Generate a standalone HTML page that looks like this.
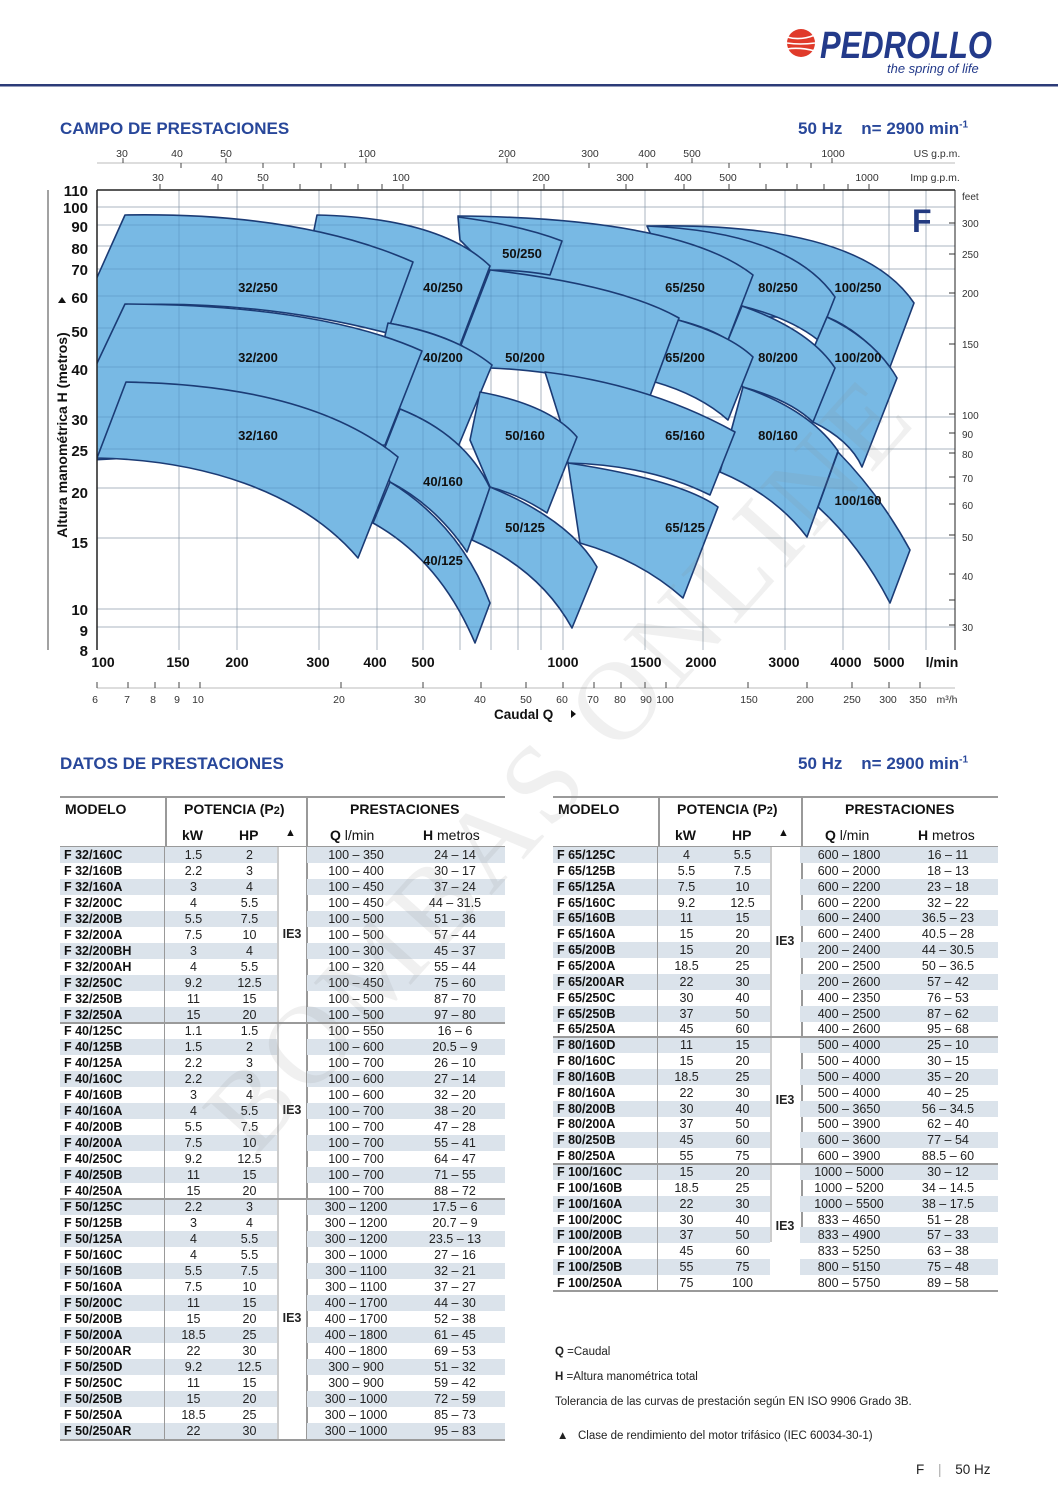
<!DOCTYPE html>
<html><head><meta charset="utf-8"><style>
body{margin:0;background:#fff;}
#pg{position:relative;width:1058px;height:1497px;overflow:hidden;font-family:"Liberation Sans",sans-serif;color:#222;}
.ttl{position:absolute;font-weight:bold;font-size:17px;color:#28479a;}
.tb{position:absolute;width:447px;}
.row{position:absolute;left:0;width:447px;height:16px;font-size:12.5px;line-height:16px;}
.row span{position:absolute;top:0;height:100%;text-align:center;}
.row .a{left:0;width:105px;text-align:left;padding-left:4px;box-sizing:border-box;font-weight:bold;color:#111;border-right:1.5px solid #999;}
.row .k{left:105px;width:57px;}
.row .h{left:162px;width:55px;}
.row .q{left:247px;width:98px;}
.row .m{left:345px;width:100px;}
.s .a,.s .k,.s .h,.s .q,.s .m{background:#dbe3eb;}
.hd{position:absolute;font-weight:bold;font-size:14px;color:#111;}
.ie{position:absolute;font-weight:bold;font-size:12.5px;width:30px;text-align:center;}
.vl{position:absolute;width:1.5px;background:#999;}
.hl{position:absolute;height:2px;background:#9a9a9a;}
.nt{position:absolute;font-size:11.5px;color:#222;}
</style></head><body><div id="pg">

<!-- header logo -->
<svg style="position:absolute;left:0;top:0" width="1058" height="100">
<circle cx="801" cy="43" r="14" fill="#e03a2a"/>
<g stroke="#fff" stroke-width="1.6" fill="none">
<path d="M787,37 Q800,41 815,35"/><path d="M787,43 Q800,45 815,43"/><path d="M787,49 Q800,47 815,51"/></g>
<text x="820" y="58" font-family="Liberation Sans" font-weight="bold" font-style="italic" font-size="38" fill="#233a8a" textLength="172" lengthAdjust="spacingAndGlyphs">PEDROLLO</text>
<text x="887" y="73" font-family="Liberation Sans" font-style="italic" font-size="13" fill="#233a8a">the spring of life</text>
<rect x="0" y="84" width="1058" height="2.5" fill="#2c3b78"/>
</svg>

<div class="ttl" style="left:60px;top:119px">CAMPO DE PRESTACIONES</div>
<div class="ttl" style="left:798px;top:119px">50 Hz &nbsp;&nbsp;&nbsp;n= 2900 min<sup style="font-size:10px">-1</sup></div>

<svg style="position:absolute;left:0;top:0" width="1058" height="740" font-family="Liberation Sans">
<defs><clipPath id="cp"><rect x="97" y="190" width="858" height="460"/></clipPath></defs>
<!-- light grid under -->
<g stroke="#d0d0d0" stroke-width="1">
<path d="M179,190V650M237,190V650M319,190V650M377,190V650M423,190V650M460,190V650M491,190V650M518,190V650M541,190V650M563,190V650M645,190V650M703,190V650M785,190V650M843,190V650M889,190V650M926,190V650"/>
<path d="M97,207H955M97,225H955M97,246H955M97,269H955M97,296H955M97,328H955M97,367H955M97,417H955M97,449H955M97,488H955M97,538H955M97,609H955M97,627H955"/>
</g>
<g clip-path="url(#cp)" fill="#78b9e4" stroke="#1b3b75" stroke-width="1.6" stroke-linejoin="round">
<path d="M648,226 Q860,222 914,303 L890,367 Q860,330 827,317 L700,317 Z"/>
<path d="M647,226 Q790,232 835,297 L818,340 Q790,318 742,306 L680,300 Z"/>
<path d="M458,216 Q680,218 753,275 L728,340 Q710,328 678,320 L500,300 Z"/>
<path d="M458,217 Q520,225 562,241 L550,275 Q520,270 490,270 L460,240 Z"/>
<path d="M317,215 Q440,218 490,266 L460,345 Q430,330 388,323 L300,300 Z"/>
<path d="M125,215 Q300,212 413,262 L387,333 Q260,300 125,305 L90,380 L90,293 Z"/>
<path d="M827,317 Q875,340 897,378 L862,467 Q850,440 813,422 L800,380 Z"/>
<path d="M742,306 Q810,330 835,368 L813,422 Q790,400 743,387 L720,360 Z"/>
<path d="M678,320 Q730,335 753,357 L728,420 Q700,395 655,382 L640,370 Z"/>
<path d="M490,270 Q620,285 679,318 L647,404 Q590,372 490,368 L461,345 Z"/>
<path d="M388,323 Q455,335 492,365 L458,447 Q440,425 400,409 L370,400 Z"/>
<path d="M125,304 Q320,305 422,351 L385,445 L90,460 L90,378 Z"/>
<path d="M838,452 Q880,495 910,550 L890,603 Q860,545 818,507 Z"/>
<path d="M743,387 Q810,410 838,451 L807,537 Q775,495 720,472 Z"/>
<path d="M545,372 Q650,385 735,432 L710,495 Q650,465 568,463 L560,420 Z"/>
<path d="M480,392 Q550,405 577,437 L547,513 Q520,495 490,487 L470,440 Z"/>
<path d="M400,409 Q465,435 490,488 L467,552 Q435,505 390,482 L380,460 Z"/>
<path d="M126,382 Q310,385 398,457 L358,558 C300,490 200,460 97,458 Z"/>
<path d="M568,463 Q680,480 718,507 L683,598 Q640,560 580,543 Z"/>
<path d="M490,487 Q570,520 597,567 L572,628 Q540,570 472,540 Z"/>
<path d="M390,482 Q460,525 490,603 L475,643 Q440,560 373,523 Z"/>
</g>
<!-- grid over fill -->
<g stroke="#2a5a8a" stroke-opacity="0.22" stroke-width="1">
<path d="M179,190V650M237,190V650M319,190V650M377,190V650M423,190V650M460,190V650M491,190V650M518,190V650M541,190V650M563,190V650M645,190V650M703,190V650M785,190V650M843,190V650M889,190V650M926,190V650"/>
<path d="M97,207H955M97,225H955M97,246H955M97,269H955M97,296H955M97,328H955M97,367H955M97,417H955M97,449H955M97,488H955M97,538H955M97,609H955M97,627H955"/>
</g>
<!-- frame -->
<g stroke="#222" fill="none">
<path d="M97,190H955" stroke-width="1.5"/>
<path d="M97,190V650" stroke-width="1.5"/>
<path d="M955,190V650" stroke-width="1"/>
<path d="M48,190V650" stroke-width="1" stroke="#444"/>
<path d="M97,163H955" stroke="#bbb"/>
<path d="M97,688H955" stroke="#bbb"/>
</g>
<!-- labels -->
<g font-size="13" font-weight="bold" fill="#111" text-anchor="middle">
<text x="258" y="292">32/250</text><text x="443" y="292">40/250</text><text x="522" y="258">50/250</text><text x="685" y="292">65/250</text><text x="778" y="292">80/250</text><text x="858" y="292">100/250</text>
<text x="258" y="362">32/200</text><text x="443" y="362">40/200</text><text x="525" y="362">50/200</text><text x="685" y="362">65/200</text><text x="778" y="362">80/200</text><text x="858" y="362">100/200</text>
<text x="258" y="440">32/160</text><text x="443" y="486">40/160</text><text x="525" y="440">50/160</text><text x="685" y="440">65/160</text><text x="778" y="440">80/160</text><text x="858" y="505">100/160</text>
<text x="443" y="565">40/125</text><text x="525" y="532">50/125</text><text x="685" y="532">65/125</text>
</g>
<text x="912" y="232" font-size="32" font-weight="bold" fill="#223a80">F</text>
<!-- y labels -->
<g font-size="15" font-weight="bold" fill="#111" text-anchor="end">
<text x="88" y="196">110</text><text x="88" y="213">100</text><text x="88" y="232">90</text><text x="88" y="254">80</text><text x="88" y="275">70</text><text x="88" y="303">60</text><text x="88" y="337">50</text><text x="88" y="375">40</text><text x="88" y="425">30</text><text x="88" y="456">25</text><text x="88" y="498">20</text><text x="88" y="548">15</text><text x="88" y="615">10</text><text x="88" y="636">9</text><text x="88" y="656">8</text>
</g>
<text transform="translate(67,435) rotate(-90)" font-size="14" font-weight="bold" text-anchor="middle" fill="#111">Altura manométrica H (metros)</text>
<path d="M58,303 l4,-6 l4,6z" fill="#111"/>
<!-- right feet -->
<g font-size="10" fill="#333">
<text x="962" y="200">feet</text><text x="962" y="227">300</text><text x="962" y="258">250</text><text x="962" y="297">200</text><text x="962" y="348">150</text><text x="962" y="419">100</text><text x="962" y="438">90</text><text x="962" y="458">80</text><text x="962" y="482">70</text><text x="962" y="509">60</text><text x="962" y="541">50</text><text x="962" y="580">40</text><text x="962" y="631">30</text>
</g>
<g stroke="#333"><path d="M955,223h-6M955,254h-6M955,293h-6M955,344h-6M955,414h-6M955,433h-6M955,453h-6M955,477h-6M955,504h-6M955,535h-6M955,574h-6M955,600h-6M955,625h-6"/></g>
<!-- top axes -->
<g font-size="10.5" fill="#333" text-anchor="middle">
<text x="122" y="157">30</text><text x="177" y="157">40</text><text x="226" y="157">50</text><text x="367" y="157">100</text><text x="507" y="157">200</text><text x="590" y="157">300</text><text x="647" y="157">400</text><text x="692" y="157">500</text><text x="833" y="157">1000</text><text x="937" y="157">US g.p.m.</text>
<text x="158" y="181">30</text><text x="217" y="181">40</text><text x="263" y="181">50</text><text x="401" y="181">100</text><text x="541" y="181">200</text><text x="625" y="181">300</text><text x="683" y="181">400</text><text x="728" y="181">500</text><text x="867" y="181">1000</text><text x="935" y="181">Imp g.p.m.</text>
</g>
<g stroke="#444"><path d="M123,163v-5M181,163v5M226,163v-5M263,163v5M294,163v5M321,163v5M345,163v5M366,163v-5M507,163v-5M589,163v5M647,163v5M692,163v-5M729,163v5M760,163v5M787,163v5M811,163v5M832,163v-5"/>
<path d="M160,190v-6M218,190v-6M263,190v-6M300,190v-6M331,190v-6M358,190v-6M382,190v-6M403,190v-6M544,190v-6M626,190v-6M684,190v-6M729,190v-6M766,190v-6M797,190v-6M824,190v-6M848,190v-6M869,190v-6"/></g>
<!-- bottom axes -->
<g font-size="14" font-weight="bold" fill="#111" text-anchor="middle">
<text x="103" y="667">100</text><text x="178" y="667">150</text><text x="237" y="667">200</text><text x="318" y="667">300</text><text x="375" y="667">400</text><text x="423" y="667">500</text><text x="563" y="667">1000</text><text x="646" y="667">1500</text><text x="701" y="667">2000</text><text x="784" y="667">3000</text><text x="846" y="667">4000</text><text x="889" y="667">5000</text><text x="942" y="667">l/min</text>
</g>
<g font-size="10.5" fill="#333" text-anchor="middle">
<text x="95" y="703">6</text><text x="127" y="703">7</text><text x="153" y="703">8</text><text x="177" y="703">9</text><text x="198" y="703">10</text><text x="339" y="703">20</text><text x="420" y="703">30</text><text x="480" y="703">40</text><text x="526" y="703">50</text><text x="562" y="703">60</text><text x="593" y="703">70</text><text x="620" y="703">80</text><text x="646" y="703">90</text><text x="665" y="703">100</text><text x="749" y="703">150</text><text x="805" y="703">200</text><text x="852" y="703">250</text><text x="888" y="703">300</text><text x="918" y="703">350</text><text x="947" y="703">m³/h</text>
</g>
<g stroke="#444"><path d="M97,688v-6M128,688v-6M155,688v-6M179,688v-6M200,688v-6M341,688v-6M423,688v-6M481,688v-6M526,688v-6M563,688v-6M594,688v-6M621,688v-6M645,688v-6M666,688v-6M748,688v-6M807,688v-6M852,688v-6M889,688v-6M920,688v-6"/></g>
<text x="494" y="719" font-size="13.5" font-weight="bold" fill="#111">Caudal Q</text>
<path d="M571,710 l5,4 l-5,4z" fill="#111"/>
</svg>

<div class="ttl" style="left:60px;top:754px">DATOS DE PRESTACIONES</div>
<div class="ttl" style="left:798px;top:754px">50 Hz &nbsp;&nbsp;&nbsp;n= 2900 min<sup style="font-size:10px">-1</sup></div>

<!-- LEFT TABLE -->
<div class="tb" style="left:60px;top:796px;height:650px">
<div class="hl" style="left:0;top:0;width:445px"></div>
<div class="hd" style="left:5px;top:5px">MODELO</div>
<div class="hd" style="left:124px;top:5px">POTENCIA (P<span style="font-size:11px">2</span>)</div>
<div class="hd" style="left:290px;top:5px">PRESTACIONES</div>
<div class="hd" style="left:122px;top:31px">kW</div>
<div class="hd" style="left:179px;top:31px">HP</div>
<div class="hd" style="left:225px;top:31px;font-size:11px">▲</div>
<div class="hd" style="left:270px;top:31px">Q <span style="font-weight:normal">l/min</span></div>
<div class="hd" style="left:363px;top:31px">H <span style="font-weight:normal">metros</span></div>
<div class="vl" style="left:105px;top:0;height:51px"></div>
<div class="vl" style="left:246px;top:0;height:645px"></div>
<div class="vl" style="left:217px;top:51px;height:594px;background:#ccc"></div>
<div class="hl" style="left:0;top:50px;width:445px;height:1px"></div>
<div style="position:absolute;top:51px;left:0">
<div class="row s" style="top:0px"><span class="a">F 32/160C</span><span class="k">1.5</span><span class="h">2</span><span class="q">100 – 350</span><span class="m">24 – 14</span></div>
<div class="row" style="top:16px"><span class="a">F 32/160B</span><span class="k">2.2</span><span class="h">3</span><span class="q">100 – 400</span><span class="m">30 – 17</span></div>
<div class="row s" style="top:32px"><span class="a">F 32/160A</span><span class="k">3</span><span class="h">4</span><span class="q">100 – 450</span><span class="m">37 – 24</span></div>
<div class="row" style="top:48px"><span class="a">F 32/200C</span><span class="k">4</span><span class="h">5.5</span><span class="q">100 – 450</span><span class="m">44 – 31.5</span></div>
<div class="row s" style="top:64px"><span class="a">F 32/200B</span><span class="k">5.5</span><span class="h">7.5</span><span class="q">100 – 500</span><span class="m">51 – 36</span></div>
<div class="row" style="top:80px"><span class="a">F 32/200A</span><span class="k">7.5</span><span class="h">10</span><span class="q">100 – 500</span><span class="m">57 – 44</span></div>
<div class="row s" style="top:96px"><span class="a">F 32/200BH</span><span class="k">3</span><span class="h">4</span><span class="q">100 – 300</span><span class="m">45 – 37</span></div>
<div class="row" style="top:112px"><span class="a">F 32/200AH</span><span class="k">4</span><span class="h">5.5</span><span class="q">100 – 320</span><span class="m">55 – 44</span></div>
<div class="row s" style="top:128px"><span class="a">F 32/250C</span><span class="k">9.2</span><span class="h">12.5</span><span class="q">100 – 450</span><span class="m">75 – 60</span></div>
<div class="row" style="top:144px"><span class="a">F 32/250B</span><span class="k">11</span><span class="h">15</span><span class="q">100 – 500</span><span class="m">87 – 70</span></div>
<div class="row s" style="top:160px"><span class="a">F 32/250A</span><span class="k">15</span><span class="h">20</span><span class="q">100 – 500</span><span class="m">97 – 80</span></div>
<div class="row" style="top:176px"><span class="a">F 40/125C</span><span class="k">1.1</span><span class="h">1.5</span><span class="q">100 – 550</span><span class="m">16 – 6</span></div>
<div class="row s" style="top:192px"><span class="a">F 40/125B</span><span class="k">1.5</span><span class="h">2</span><span class="q">100 – 600</span><span class="m">20.5 – 9</span></div>
<div class="row" style="top:208px"><span class="a">F 40/125A</span><span class="k">2.2</span><span class="h">3</span><span class="q">100 – 700</span><span class="m">26 – 10</span></div>
<div class="row s" style="top:224px"><span class="a">F 40/160C</span><span class="k">2.2</span><span class="h">3</span><span class="q">100 – 600</span><span class="m">27 – 14</span></div>
<div class="row" style="top:240px"><span class="a">F 40/160B</span><span class="k">3</span><span class="h">4</span><span class="q">100 – 600</span><span class="m">32 – 20</span></div>
<div class="row s" style="top:256px"><span class="a">F 40/160A</span><span class="k">4</span><span class="h">5.5</span><span class="q">100 – 700</span><span class="m">38 – 20</span></div>
<div class="row" style="top:272px"><span class="a">F 40/200B</span><span class="k">5.5</span><span class="h">7.5</span><span class="q">100 – 700</span><span class="m">47 – 28</span></div>
<div class="row s" style="top:288px"><span class="a">F 40/200A</span><span class="k">7.5</span><span class="h">10</span><span class="q">100 – 700</span><span class="m">55 – 41</span></div>
<div class="row" style="top:304px"><span class="a">F 40/250C</span><span class="k">9.2</span><span class="h">12.5</span><span class="q">100 – 700</span><span class="m">64 – 47</span></div>
<div class="row s" style="top:320px"><span class="a">F 40/250B</span><span class="k">11</span><span class="h">15</span><span class="q">100 – 700</span><span class="m">71 – 55</span></div>
<div class="row" style="top:336px"><span class="a">F 40/250A</span><span class="k">15</span><span class="h">20</span><span class="q">100 – 700</span><span class="m">88 – 72</span></div>
<div class="row s" style="top:352px"><span class="a">F 50/125C</span><span class="k">2.2</span><span class="h">3</span><span class="q">300 – 1200</span><span class="m">17.5 – 6</span></div>
<div class="row" style="top:368px"><span class="a">F 50/125B</span><span class="k">3</span><span class="h">4</span><span class="q">300 – 1200</span><span class="m">20.7 – 9</span></div>
<div class="row s" style="top:384px"><span class="a">F 50/125A</span><span class="k">4</span><span class="h">5.5</span><span class="q">300 – 1200</span><span class="m">23.5 – 13</span></div>
<div class="row" style="top:400px"><span class="a">F 50/160C</span><span class="k">4</span><span class="h">5.5</span><span class="q">300 – 1000</span><span class="m">27 – 16</span></div>
<div class="row s" style="top:416px"><span class="a">F 50/160B</span><span class="k">5.5</span><span class="h">7.5</span><span class="q">300 – 1100</span><span class="m">32 – 21</span></div>
<div class="row" style="top:432px"><span class="a">F 50/160A</span><span class="k">7.5</span><span class="h">10</span><span class="q">300 – 1100</span><span class="m">37 – 27</span></div>
<div class="row s" style="top:448px"><span class="a">F 50/200C</span><span class="k">11</span><span class="h">15</span><span class="q">400 – 1700</span><span class="m">44 – 30</span></div>
<div class="row" style="top:464px"><span class="a">F 50/200B</span><span class="k">15</span><span class="h">20</span><span class="q">400 – 1700</span><span class="m">52 – 38</span></div>
<div class="row s" style="top:480px"><span class="a">F 50/200A</span><span class="k">18.5</span><span class="h">25</span><span class="q">400 – 1800</span><span class="m">61 – 45</span></div>
<div class="row" style="top:496px"><span class="a">F 50/200AR</span><span class="k">22</span><span class="h">30</span><span class="q">400 – 1800</span><span class="m">69 – 53</span></div>
<div class="row s" style="top:512px"><span class="a">F 50/250D</span><span class="k">9.2</span><span class="h">12.5</span><span class="q">300 – 900</span><span class="m">51 – 32</span></div>
<div class="row" style="top:528px"><span class="a">F 50/250C</span><span class="k">11</span><span class="h">15</span><span class="q">300 – 900</span><span class="m">59 – 42</span></div>
<div class="row s" style="top:544px"><span class="a">F 50/250B</span><span class="k">15</span><span class="h">20</span><span class="q">300 – 1000</span><span class="m">72 – 59</span></div>
<div class="row" style="top:560px"><span class="a">F 50/250A</span><span class="k">18.5</span><span class="h">25</span><span class="q">300 – 1000</span><span class="m">85 – 73</span></div>
<div class="row s" style="top:576px"><span class="a">F 50/250AR</span><span class="k">22</span><span class="h">30</span><span class="q">300 – 1000</span><span class="m">95 – 83</span></div>
<div class="hl" style="left:0;top:175px;width:445px"></div>
<div class="hl" style="left:0;top:351px;width:445px"></div>
<div class="hl" style="left:0;top:592px;width:445px"></div>
<div class="ie" style="left:217px;top:80px">IE3</div>
<div class="ie" style="left:217px;top:256px">IE3</div>
<div class="ie" style="left:217px;top:464px">IE3</div>
</div>
</div>

<!-- RIGHT TABLE -->
<div class="tb" style="left:553px;top:796px;height:500px">
<div class="hl" style="left:0;top:0;width:445px"></div>
<div class="hd" style="left:5px;top:5px">MODELO</div>
<div class="hd" style="left:124px;top:5px">POTENCIA (P<span style="font-size:11px">2</span>)</div>
<div class="hd" style="left:292px;top:5px">PRESTACIONES</div>
<div class="hd" style="left:122px;top:31px">kW</div>
<div class="hd" style="left:179px;top:31px">HP</div>
<div class="hd" style="left:225px;top:31px;font-size:11px">▲</div>
<div class="hd" style="left:272px;top:31px">Q <span style="font-weight:normal">l/min</span></div>
<div class="hd" style="left:365px;top:31px">H <span style="font-weight:normal">metros</span></div>
<div class="vl" style="left:105px;top:0;height:51px"></div>
<div class="vl" style="left:248px;top:0;height:446px"></div>
<div class="vl" style="left:217px;top:51px;height:395px;background:#ccc"></div>
<div class="hl" style="left:0;top:50px;width:445px;height:1px"></div>
<div style="position:absolute;top:51px;left:0">
<div class="row s" style="top:0px"><span class="a">F 65/125C</span><span class="k">4</span><span class="h">5.5</span><span class="q">600 – 1800</span><span class="m">16 – 11</span></div>
<div class="row" style="top:15.85px"><span class="a">F 65/125B</span><span class="k">5.5</span><span class="h">7.5</span><span class="q">600 – 2000</span><span class="m">18 – 13</span></div>
<div class="row s" style="top:31.7px"><span class="a">F 65/125A</span><span class="k">7.5</span><span class="h">10</span><span class="q">600 – 2200</span><span class="m">23 – 18</span></div>
<div class="row" style="top:47.55px"><span class="a">F 65/160C</span><span class="k">9.2</span><span class="h">12.5</span><span class="q">600 – 2200</span><span class="m">32 – 22</span></div>
<div class="row s" style="top:63.4px"><span class="a">F 65/160B</span><span class="k">11</span><span class="h">15</span><span class="q">600 – 2400</span><span class="m">36.5 – 23</span></div>
<div class="row" style="top:79.25px"><span class="a">F 65/160A</span><span class="k">15</span><span class="h">20</span><span class="q">600 – 2400</span><span class="m">40.5 – 28</span></div>
<div class="row s" style="top:95.1px"><span class="a">F 65/200B</span><span class="k">15</span><span class="h">20</span><span class="q">200 – 2400</span><span class="m">44 – 30.5</span></div>
<div class="row" style="top:110.95px"><span class="a">F 65/200A</span><span class="k">18.5</span><span class="h">25</span><span class="q">200 – 2500</span><span class="m">50 – 36.5</span></div>
<div class="row s" style="top:126.8px"><span class="a">F 65/200AR</span><span class="k">22</span><span class="h">30</span><span class="q">200 – 2600</span><span class="m">57 – 42</span></div>
<div class="row" style="top:142.65px"><span class="a">F 65/250C</span><span class="k">30</span><span class="h">40</span><span class="q">400 – 2350</span><span class="m">76 – 53</span></div>
<div class="row s" style="top:158.5px"><span class="a">F 65/250B</span><span class="k">37</span><span class="h">50</span><span class="q">400 – 2500</span><span class="m">87 – 62</span></div>
<div class="row" style="top:174.35px"><span class="a">F 65/250A</span><span class="k">45</span><span class="h">60</span><span class="q">400 – 2600</span><span class="m">95 – 68</span></div>
<div class="row s" style="top:190.2px"><span class="a">F 80/160D</span><span class="k">11</span><span class="h">15</span><span class="q">500 – 4000</span><span class="m">25 – 10</span></div>
<div class="row" style="top:206.05px"><span class="a">F 80/160C</span><span class="k">15</span><span class="h">20</span><span class="q">500 – 4000</span><span class="m">30 – 15</span></div>
<div class="row s" style="top:221.9px"><span class="a">F 80/160B</span><span class="k">18.5</span><span class="h">25</span><span class="q">500 – 4000</span><span class="m">35 – 20</span></div>
<div class="row" style="top:237.75px"><span class="a">F 80/160A</span><span class="k">22</span><span class="h">30</span><span class="q">500 – 4000</span><span class="m">40 – 25</span></div>
<div class="row s" style="top:253.6px"><span class="a">F 80/200B</span><span class="k">30</span><span class="h">40</span><span class="q">500 – 3650</span><span class="m">56 – 34.5</span></div>
<div class="row" style="top:269.45px"><span class="a">F 80/200A</span><span class="k">37</span><span class="h">50</span><span class="q">500 – 3900</span><span class="m">62 – 40</span></div>
<div class="row s" style="top:285.3px"><span class="a">F 80/250B</span><span class="k">45</span><span class="h">60</span><span class="q">600 – 3600</span><span class="m">77 – 54</span></div>
<div class="row" style="top:301.15px"><span class="a">F 80/250A</span><span class="k">55</span><span class="h">75</span><span class="q">600 – 3900</span><span class="m">88.5 – 60</span></div>
<div class="row s" style="top:317px"><span class="a">F 100/160C</span><span class="k">15</span><span class="h">20</span><span class="q">1000 – 5000</span><span class="m">30 – 12</span></div>
<div class="row" style="top:332.85px"><span class="a">F 100/160B</span><span class="k">18.5</span><span class="h">25</span><span class="q">1000 – 5200</span><span class="m">34 – 14.5</span></div>
<div class="row s" style="top:348.7px"><span class="a">F 100/160A</span><span class="k">22</span><span class="h">30</span><span class="q">1000 – 5500</span><span class="m">38 – 17.5</span></div>
<div class="row" style="top:364.55px"><span class="a">F 100/200C</span><span class="k">30</span><span class="h">40</span><span class="q">833 – 4650</span><span class="m">51 – 28</span></div>
<div class="row s" style="top:380.4px"><span class="a">F 100/200B</span><span class="k">37</span><span class="h">50</span><span class="q">833 – 4900</span><span class="m">57 – 33</span></div>
<div class="row" style="top:396.25px"><span class="a">F 100/200A</span><span class="k">45</span><span class="h">60</span><span class="q">833 – 5250</span><span class="m">63 – 38</span></div>
<div class="row s" style="top:412.1px"><span class="a">F 100/250B</span><span class="k">55</span><span class="h">75</span><span class="q">800 – 5150</span><span class="m">75 – 48</span></div>
<div class="row" style="top:427.95px"><span class="a">F 100/250A</span><span class="k">75</span><span class="h">100</span><span class="q">800 – 5750</span><span class="m">89 – 58</span></div>
<div class="hl" style="left:0;top:189px;width:445px"></div>
<div class="hl" style="left:0;top:316px;width:445px"></div>
<div class="hl" style="left:0;top:443px;width:445px"></div>
<div class="ie" style="left:217px;top:87px">IE3</div>
<div class="ie" style="left:217px;top:246px">IE3</div>
<div class="ie" style="left:217px;top:372px">IE3</div>
</div>
</div>

<div class="nt" style="left:555px;top:1346px"><b>Q</b> =Caudal</div>
<div class="nt" style="left:555px;top:1371px"><b>H</b> =Altura manométrica total</div>
<div class="nt" style="left:555px;top:1396px">Tolerancia de las curvas de prestación según EN ISO 9906 Grado 3B.</div>
<div class="nt" style="left:557px;top:1430px">▲ &nbsp;&nbsp;Clase de rendimiento del motor trifásico (IEC 60034-30-1)</div>
<div style="position:absolute;left:916px;top:1462px;font-size:13.5px;color:#222">F <span style="color:#aaa;margin:0 10px">|</span> 50 Hz</div>

<div style="position:absolute;left:60px;top:700px;width:1000px;text-align:center;transform:rotate(-48deg);transform-origin:50% 50%;font-family:'Liberation Serif',serif;font-size:112px;color:rgba(140,140,140,0.13);letter-spacing:6px;white-space:nowrap">BOMBAS ONLINE</div>
</div></body></html>
